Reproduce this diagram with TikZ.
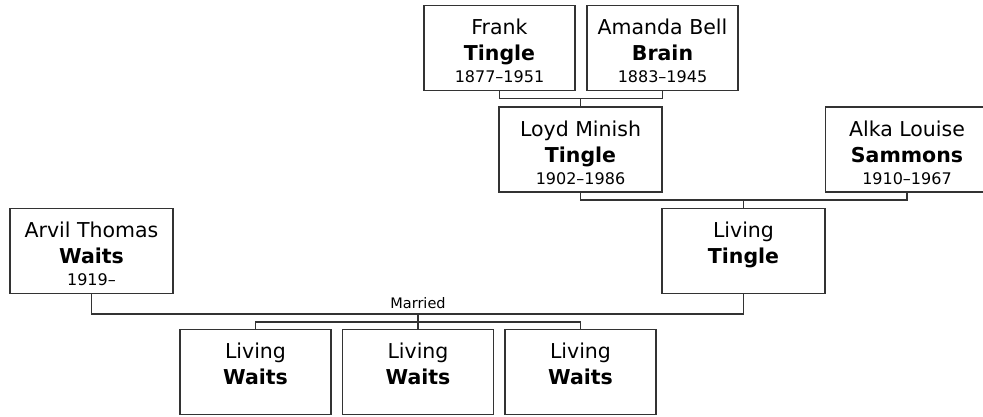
\documentclass[tikz,border=0pt]{standalone}
\usepackage{fontspec}
\setmainfont{DejaVu Sans}
\newcommand{\person}[3]{\parbox[t][57.8pt][t]{150pt}{\centering
  {\fontsize{20.5}{26}\selectfont #1\par}
  {\fontsize{20.5}{26}\selectfont\bfseries #2\par}
  {\fontsize{16}{22}\selectfont #3\par}}}
\tikzset{
  person/.style={draw=black!80, line width=1.2pt, inner xsep=0pt, inner ysep=13.6pt,
    minimum width=163pt, minimum height=85pt},
  narrow/.style={person, minimum width=151pt},
  link/.style={draw=black!80, line width=1.2pt}
}
\begin{document}
\begin{tikzpicture}[x=1pt, y=1pt]
    \useasboundingbox (0,0) rectangle (983,416);
    % 祖父母
    \node[narrow] (frank) at (499.5,367.8) {\person{Frank}{Tingle}{1877–1951}};
    \node[narrow] (amanda) at (662.5,367.8) {\person{Amanda Bell}{Brain}{1883–1945}};
    % 両親
    \node[person] (loyd) at (580.5,266.5) {\person{Loyd Minish}{Tingle}{1902–1986}};
    \node[person] (alka) at (907,266.5) {\person{Alka Louise}{Sammons}{1910–1967}};
    % 夫婦
    \node[person] (arvil) at (91.5,165) {\person{Arvil Thomas}{Waits}{1919–}};
    \node[person] (tingle) at (743.5,165) {\person{Living}{Tingle}{}};
    % 子ども
    \node[narrow] (kid1) at (255.5,44) {\person{Living}{Waits}{}};
    \node[narrow] (kid2) at (418,44) {\person{Living}{Waits}{}};
    \node[narrow] (kid3) at (580.5,44) {\person{Living}{Waits}{}};
    % 線
    \path (loyd.north) ++(0,8.2) coordinate (fa);
    \draw[link] (frank.south) |- (fa) -| (amanda.south);
    \draw[link] (fa) -- (loyd.north);
    \path (tingle.north) ++(0,8) coordinate (la);
    \draw[link] (loyd.south) |- (la) -| (alka.south);
    \draw[link] (la) -- (tingle.north);
    \path (kid2.north) ++(0,15) coordinate (m);
    \draw[link] (arvil.south) |- (m) -| (tingle.south);
    \node[anchor=base, font=\fontsize{14.5}{17}\selectfont] (married) at ([yshift=5pt]m) {Married};
    \path (kid2.north) ++(0,7) coordinate (k);
    \draw[link] (kid1.north) |- (k) -| (kid3.north);
    \draw[link] (m) -- (kid2.north);
  \end{tikzpicture}
\end{document}
